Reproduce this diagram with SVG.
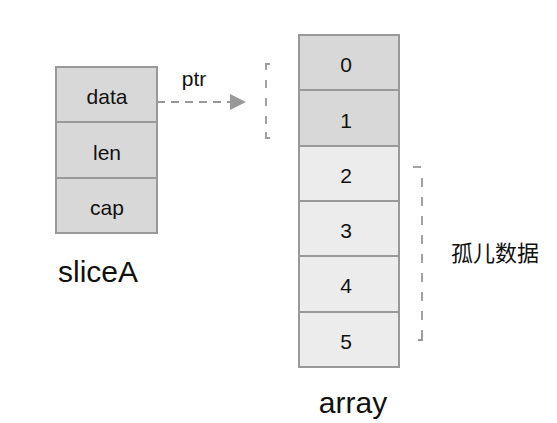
<svg xmlns="http://www.w3.org/2000/svg" width="557" height="423" viewBox="0 0 557 423">
<style>
.cell{stroke:#999;stroke-width:2}
.dark{fill:#d8d8d8}
.light{fill:#ececec}
.t{font-family:"Liberation Sans","Noto Sans","Noto Sans CJK SC",sans-serif;fill:#111;text-anchor:middle}
.s{font-size:21px}
.b{font-size:30px}
.dash{fill:none;stroke:#999;stroke-width:1.8}
</style>
<rect width="557" height="423" fill="#fff"/>
<g id="sliceA">
<rect class="cell dark" x="56" y="67" width="101" height="55"/>
<rect class="cell dark" x="56" y="122" width="101" height="56"/>
<rect class="cell dark" x="56" y="178" width="101" height="55"/>
<text class="t s" x="107" y="104">data</text>
<text class="t s" x="107" y="160">len</text>
<text class="t s" x="107" y="215">cap</text>
<text class="t b" x="98" y="282">sliceA</text>
</g>
<g id="array">
<rect class="cell dark" x="299" y="35" width="100" height="55"/>
<rect class="cell dark" x="299" y="90" width="100" height="56"/>
<rect class="cell light" x="299" y="146" width="100" height="55"/>
<rect class="cell light" x="299" y="201" width="100" height="55"/>
<rect class="cell light" x="299" y="256" width="100" height="56"/>
<rect class="cell light" x="299" y="312" width="100" height="55"/>
<text class="t s" x="346" y="72">0</text>
<text class="t s" x="346" y="128">1</text>
<text class="t s" x="346" y="183">2</text>
<text class="t s" x="346" y="238">3</text>
<text class="t s" x="346" y="293">4</text>
<text class="t s" x="346" y="349">5</text>
<text class="t b" x="353" y="413">array</text>
</g>
<g id="orphan">
<path class="dash" d="M413,167 H421"/>
<path class="dash" d="M422,178 V338" stroke-dasharray="9,10"/>
<path class="dash" d="M418,340 H422 V334"/>
<text class="t" style="font-size:22px" x="495" y="261">孤儿数据</text>
</g>
<g id="connectors">
<path class="dash" d="M157,102 H230" stroke-dasharray="8,6"/>
<path d="M230,94 L246,102 L230,110 Z" fill="#999"/>
<text class="t s" x="194" y="86">ptr</text>
<path class="dash" d="M270,64 H266 V70"/>
<path class="dash" d="M266,80 V130" stroke-dasharray="8,10"/>
<path class="dash" d="M266,132 V138 H270"/>
</g>
</svg>
